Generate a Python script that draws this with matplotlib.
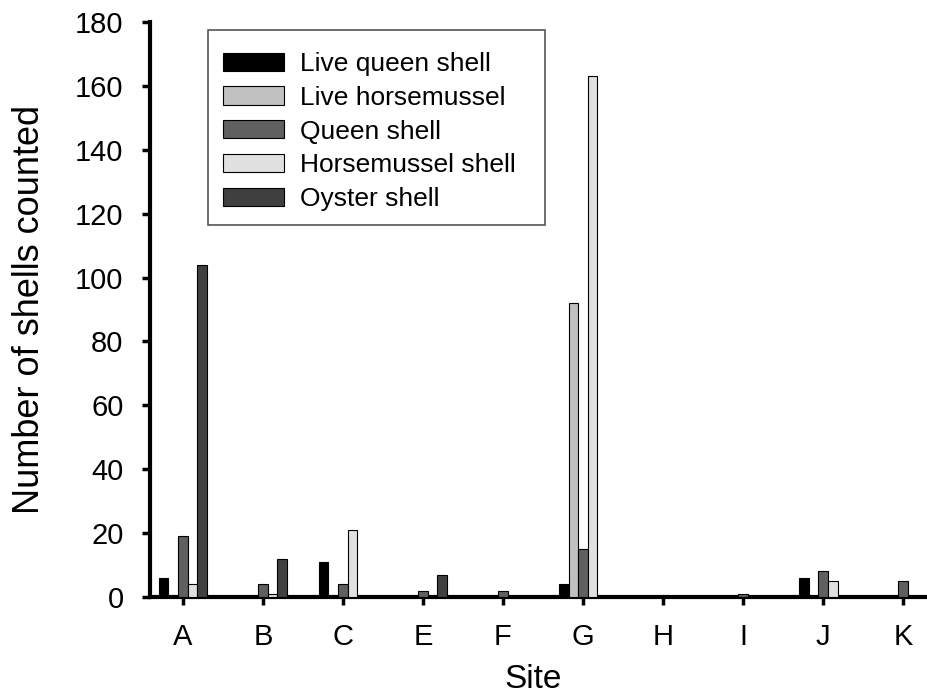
import matplotlib
matplotlib.use("Agg")
import matplotlib.pyplot as plt
from matplotlib.patches import Rectangle
import numpy as np

plt.rcParams['font.family'] = ['Liberation Sans', 'DejaVu Sans']

sites = ["A", "B", "C", "E", "F", "G", "H", "I", "J", "K"]
series_names = ["Live queen shell", "Live horsemussel", "Queen shell",
                "Horsemussel shell", "Oyster shell"]
live_queen = [6, 0, 11, 0, 0, 4, 0, 0, 6, 0]
live_horse = [0, 0, 0, 0, 0, 92, 0, 0, 0, 0]
queen_shell = [19, 4, 4, 2, 2, 15, 0, 1, 8, 5]
horse_shell = [4, 1, 21, 0, 0, 163, 0, 0, 5, 0]
oyster_shell = [104, 12, 0, 7, 0, 0, 0, 0, 0, 0]
colors = ["#000000", "#c0c0c0", "#606060", "#e0e0e0", "#404040"]

data = [live_queen, live_horse, queen_shell, horse_shell, oyster_shell]

W, H = 928, 700
fig = plt.figure(figsize=(W / 100, H / 100), dpi=100)
ax = fig.add_axes([150/W, 103/H, 1 - 150/W, 575/H])

x = np.arange(len(sites))
w = 0.12
for i, (vals, name, c) in enumerate(zip(data, series_names, colors)):
    ax.bar(x + (i - 2) * w, vals, width=w, color=c, edgecolor="black",
           linewidth=0.8, label=name, zorder=3)

ax.set_xlim(-0.41, 9.31)
ax.set_ylim(0, 180)
ax.set_yticks(np.arange(0, 181, 20))
ax.set_xticks(x)
ax.set_xticklabels(sites)
ax.tick_params(axis='both', labelsize=21, width=2.5, length=6, direction='out', pad=13)
for s in ["top", "right"]:
    ax.spines[s].set_visible(False)
for s in ["left", "bottom"]:
    ax.spines[s].set_linewidth(3)
ax.set_xlabel("Site", fontsize=24)
ax.xaxis.set_label_coords(383/778, -(664 - 597) / 575, transform=ax.transAxes)
ax.xaxis.label.set_va("top")
ax.set_ylabel("Number of shells counted", fontsize=26, labelpad=20)

# legend frame
frame = Rectangle((208/W, 1 - 225/H), (545 - 208)/W, (225 - 30)/H,
                  transform=fig.transFigure, facecolor="white",
                  edgecolor="#555555", linewidth=1.2, zorder=4, clip_on=False)
ax.add_patch(frame)
leg = ax.legend(loc="upper left", bbox_to_anchor=(223/W, 1 - 52/H),
                bbox_transform=fig.transFigure, fontsize=19, frameon=False,
                borderpad=0, handlelength=2.3, handleheight=0.68,
                labelspacing=0.37, handletextpad=0.6, borderaxespad=0)
leg.set_zorder(5)

fig.savefig("out.png", dpi=100)
